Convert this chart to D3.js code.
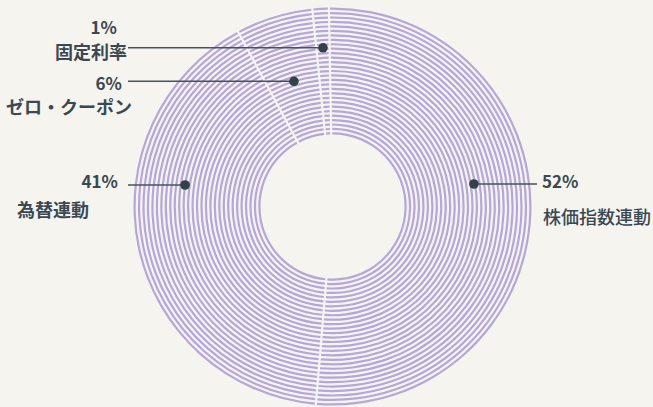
<!DOCTYPE html>
<html>
<head>
<meta charset="utf-8">
<script src="https://cdn.jsdelivr.net/npm/d3@7"></script>
<style>
  body { margin:0; background:#f5f4ef; }
  svg { display:block; }
  .pct { font-family:"Noto Sans CJK JP","Noto Sans",sans-serif; font-weight:700; font-size:17px; fill:#3b4852; }
  .name { font-family:"Noto Sans CJK JP",sans-serif; font-weight:700; font-size:18px; fill:#3b4852; }
  .leader { stroke:#46535d; stroke-width:1.6; }
  .dot { fill:#33414b; }
</style>
</head>
<body>
<svg id="donut"></svg>
<script>
//categories and their shares (percent)
var categories = ["株価指数連動","為替連動","ゼロ・クーポン","固定利率"]
var shares = [52,41,6,1]
var shareLabels = ["52%","41%","6%","1%"]

//screen and donut geometry
var screen = {width:653,height:407}
var center = {x:332.5,y:206.5}
var radii = {inner:72,outer:199}
var ringCount = 29

//where each label sits (same order as categories)
//atMid: dot sits on the slice's middle angle, otherwise on the row lineY
var labelLayout = [
    {side:1, atMid:false, lineY:184, dotR:143.2, lineEnd:537, pctX:542, pctY:188, nameX:543, nameY:224, pctAnchor:"start", nameAnchor:"start", nameWeight:500},
    {side:-1, atMid:false, lineY:185, dotR:149, lineEnd:128, pctX:118, pctY:188, nameX:17, nameY:217, pctAnchor:"end", nameAnchor:"start", nameWeight:700},
    {side:-1, atMid:true, dotR:131, lineEnd:128, pctX:122, pctY:90, nameX:6, nameY:114, pctAnchor:"end", nameAnchor:"start", nameWeight:700},
    {side:-1, atMid:true, dotR:159, lineEnd:128, pctX:117, pctY:34, nameX:127, nameY:59, pctAnchor:"end", nameAnchor:"end", nameWeight:700}
]

var svg = d3.select("#donut")
    .attr("width",screen.width)
    .attr("height",screen.height)

var target = svg.append("g")
    .attr("transform","translate("+center.x+","+center.y+")")

//pie layout, starting slightly left of twelve o'clock, clockwise, no sorting
var offset = -0.018
var pie = d3.pie()
    .sort(null)
    .startAngle(offset)
    .endAngle(2*Math.PI+offset)
    .padAngle(0.022)
    .value(function(d){return d})

var slices = pie(shares)

//concentric rings: one thin arc per slice per ring
var ringScale = d3.scaleLinear()
    .domain([0,ringCount-1])
    .range([radii.inner,radii.outer-2.2])

var rings = d3.range(ringCount)

var arc = d3.arc()
    .padRadius(100)

rings.forEach(function(i)
{
    var r0 = ringScale(i)
    target.append("g")
        .selectAll("path")
        .data(slices)
        .enter()
        .append("path")
        .attr("d",function(s)
        {
            return arc.innerRadius(r0).outerRadius(r0+2.2)(s)
        })
        .attr("fill","#b6a6d9")
})

//labels
var labels = svg.append("g").classed("labels",true)

slices.forEach(function(s,i)
{
    var lay = labelLayout[i]
    var dotX, dotY
    if(lay.atMid)
    {
        var mid = (s.startAngle+s.endAngle)/2
        dotX = center.x+lay.dotR*Math.sin(mid)
        dotY = center.y-lay.dotR*Math.cos(mid)
    }
    else
    {
        var dy = lay.lineY-center.y
        dotX = center.x+lay.side*Math.sqrt(lay.dotR*lay.dotR-dy*dy)
        dotY = lay.lineY
    }

    labels.append("line")
        .classed("leader",true)
        .attr("x1",dotX)
        .attr("y1",dotY)
        .attr("x2",lay.lineEnd)
        .attr("y2",dotY)

    labels.append("circle")
        .classed("dot",true)
        .attr("cx",dotX)
        .attr("cy",dotY)
        .attr("r",4.8)

    labels.append("text")
        .classed("pct",true)
        .attr("text-anchor",lay.pctAnchor)
        .attr("x",lay.pctX)
        .attr("y",lay.pctY)
        .text(shareLabels[i])

    labels.append("text")
        .classed("name",true)
        .attr("text-anchor",lay.nameAnchor)
        .attr("x",lay.nameX)
        .attr("y",lay.nameY)
        .style("font-weight",lay.nameWeight)
        .text(categories[i])
})
</script>
</body>
</html>
